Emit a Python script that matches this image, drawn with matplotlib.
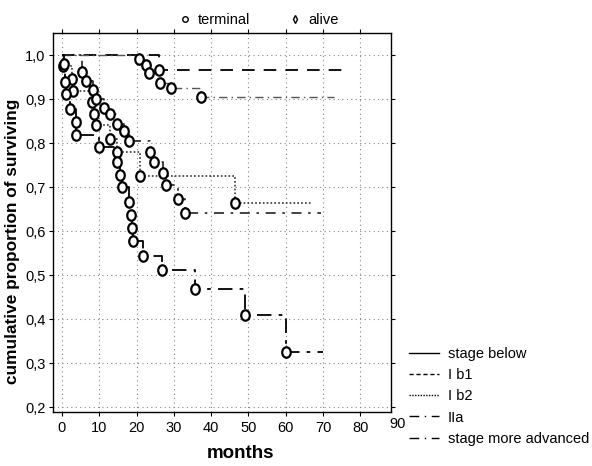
import matplotlib
matplotlib.use("Agg")
import matplotlib.pyplot as plt
from matplotlib.lines import Line2D
from matplotlib.markers import MarkerStyle
from matplotlib.transforms import Affine2D
from matplotlib.ticker import FuncFormatter

plt.rcParams['font.family'] = ['Liberation Sans', 'DejaVu Sans']

# ---- data (event times in months, survival after each event) ----
labels = ["stage below", "I b1", "I b2", "IIa", "stage more advanced"]

c_times = [26.0]
c_surv = [0.966]
c_end = 75.0

b_times = [20.7, 22.6, 23.3, 26.2, 29.1, 37.2]
b_surv = [0.990, 0.977, 0.960, 0.936, 0.925, 0.905]
b_end = 73.0

d_times = [0.3, 2.7, 3.0, 8.0, 8.5, 9.0, 12.8, 14.7, 20.9, 46.3]
d_surv = [0.975, 0.945, 0.918, 0.893, 0.866, 0.841, 0.809, 0.780, 0.725, 0.664]
d_end = 67.0

e_times = [5.3, 6.4, 8.3, 9.0, 11.2, 12.8, 14.7, 16.6, 18.0, 23.5, 24.6, 27.0, 27.8, 31.0, 33.0]
e_surv = [0.961, 0.941, 0.920, 0.900, 0.880, 0.866, 0.843, 0.827, 0.805, 0.780, 0.757, 0.732, 0.705, 0.673, 0.641]
e_end = 69.5

f_times = [0.5, 0.8, 1.0, 2.1, 3.7, 3.9, 9.9, 14.7, 15.5, 16.0, 17.9, 18.4, 18.7, 19.0, 21.7, 26.7, 35.6, 49.0, 60.0]
f_surv = [0.980, 0.939, 0.911, 0.877, 0.848, 0.818, 0.790, 0.757, 0.727, 0.700, 0.666, 0.636, 0.607, 0.577, 0.543, 0.511, 0.468, 0.409, 0.325]
f_end = 70.0

x_ticks = [0, 10, 20, 30, 40, 50, 60, 70, 80]
y_ticks = [0.2, 0.3, 0.4, 0.5, 0.6, 0.7, 0.8, 0.9, 1.0]

curves = [
    (c_times, c_surv, c_end, (0, (7, 5)), "black", 1.3),
    (b_times, b_surv, b_end, (0, (6, 3, 1, 3)), "#555555", 1.0),
    (d_times, d_surv, d_end, (0, (1, 1.3)), "#333333", 1.2),
    (e_times, e_surv, e_end, (0, (6, 4, 1.5, 4)), "#222222", 1.2),
    (f_times, f_surv, f_end, (0, (8, 4, 2, 4)), "black", 1.3),
]

oval = MarkerStyle('o', transform=Affine2D().scale(0.82, 1.0))

fig = plt.figure(figsize=(5.92, 4.66), dpi=100)
ax = fig.add_axes([0.0895, 0.116, 0.571, 0.813])

for times, surv, end, ls, col, lw in curves:
    xs = [0.0]
    ys = [1.0]
    prev = 1.0
    for t, s in zip(times, surv):
        xs += [t, t]
        ys += [prev, s]
        prev = s
    xs.append(end)
    ys.append(prev)
    ax.plot(xs, ys, linestyle=ls, color=col, lw=lw, zorder=2)
    ax.plot(times, surv, linestyle='none', marker=oval, ms=7.5, mfc='white',
            mec='black', mew=1.6, zorder=3)

legend_styles = [("-", 1.0), ((0, (3, 2)), 1.0), ((0, (1, 1)), 1.0),
                 ((0, (7, 4, 1, 4)), 1.0), ((0, (7, 4, 1, 4)), 1.0)]
legend_handles = [Line2D([], [], color='black', linestyle=ls, lw=lw, label=lab)
                  for lab, (ls, lw) in zip(labels, legend_styles)]

ax.set_xlim(-2.4, 88.2)
ax.set_ylim(0.189, 1.05)
ax.set_xticks(x_ticks)
ax.set_yticks(y_ticks)
ax.yaxis.set_major_formatter(FuncFormatter(lambda v, p: f"{v:.1f}".replace('.', ',')))
ax.tick_params(axis='both', labelsize=10.5, length=3, width=0.8, direction='out')
ax.tick_params(axis='y', pad=2.5)
ax.tick_params(top=True, right=True)
ax.grid(True, linestyle=(0, (1, 3)), color='#888888', lw=0.8)
ax.set_axisbelow(True)
for sp in ax.spines.values():
    sp.set_linewidth(1.0)

ax.text(90, -0.013, "90", transform=ax.get_xaxis_transform(), ha='center', va='top',
        fontsize=10.5, clip_on=False)

ax.set_xlabel("months", fontsize=13.5, fontweight='bold')
ax.set_ylabel("cumulative proportion of surviving", fontsize=12.4, fontweight='bold')
ax.xaxis.set_label_coords(0.556, -0.088)
ax.yaxis.set_label_coords(-0.097, 0.45)

ax.legend(handles=legend_handles, loc='lower left', bbox_to_anchor=(1.035, -0.105),
          frameon=False, fontsize=10.5, handlelength=2.1, handletextpad=0.6,
          labelspacing=0.5, borderaxespad=0)

top_handles = [Line2D([], [], linestyle='none', marker='o', ms=4, mfc='white', mec='black', mew=1.0, label='terminal'),
               Line2D([], [], linestyle='none', marker='d', ms=4, mfc='white', mec='black', mew=1.0, label='alive')]
fig.legend(handles=top_handles, loc='upper center', bbox_to_anchor=(0.435, 1.0), ncol=2,
           frameon=False, fontsize=10.5, columnspacing=2.5, handletextpad=0.3, handlelength=1.2)

fig.savefig("out.png", dpi=100)
